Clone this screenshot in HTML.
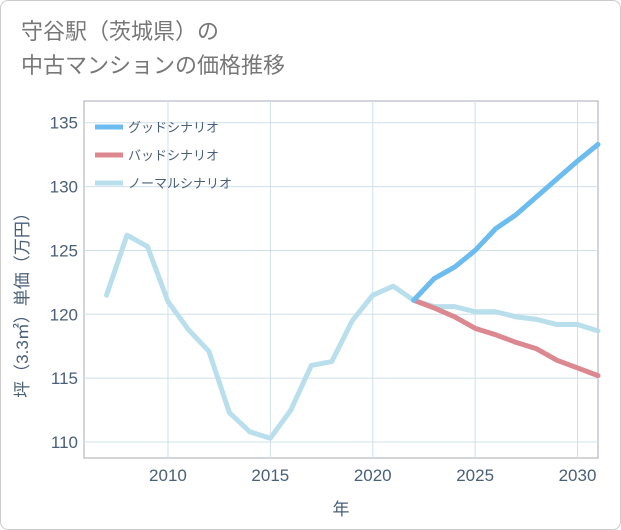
<!DOCTYPE html>
<html><head><meta charset="utf-8"><style>
body{margin:0;background:#fff;font-family:"Liberation Sans","Noto Sans CJK JP",sans-serif;}
#wrap{position:relative;width:619px;height:528px;border:1px solid #ccc;border-radius:8px;overflow:hidden;background:#fff;}
#title{position:absolute;left:20px;top:14px;font-size:22px;color:#777;line-height:34px;}
svg{position:absolute;left:0;top:0;}
</style></head><body>
<div id="wrap">
<div id="title">守谷駅（茨城県）の<br>中古マンションの価格推移</div>
<svg id="chart" width="621" height="530"></svg>
</div>
<script>
const years=[2007,2008,2009,2010,2011,2012,2013,2014,2015,2016,2017,2018,2019,2020,2021,2022,2023,2024,2025,2026,2027,2028,2029,2030,2031];
const normal=[121.5,126.2,125.3,121,118.8,117.1,112.3,110.8,110.3,112.5,116,116.3,119.5,121.5,122.2,121.1,120.6,120.6,120.2,120.2,119.8,119.6,119.2,119.2,118.7];
const futureYears=[2022,2023,2024,2025,2026,2027,2028,2029,2030,2031];
const good=[121.1,122.8,123.7,125,126.7,127.8,129.2,130.6,132,133.3];
const bad=[121.1,120.5,119.8,118.9,118.4,117.8,117.3,116.4,115.8,115.2];
const xTicks=[2010,2015,2020,2025,2030];
const yTicks=[110,115,120,125,130,135];
const L=83,R=597,T=100,B=457;
const x=v=>L+(v-2005.9)/(2031-2005.9)*(R-L);
const y=v=>B-(v-108.75)/(136.7-108.75)*(B-T);
const svg=document.getElementById('chart');
const NS='http://www.w3.org/2000/svg';
function mk(t,a){const e=document.createElementNS(NS,t);for(const k in a)e.setAttribute(k,a[k]);svg.appendChild(e);return e;}
const bg=mk('rect',{x:L,y:T,width:R-L,height:B-T,fill:'#fff',stroke:'#aab',"stroke-width":1});


xTicks.forEach(v=>{const g=mk('line',{x1:x(v),x2:x(v),y1:T,y2:B,stroke:'#cfe0ea'});


const t=mk('text',{x:x(v),y:B+23,"text-anchor":"middle","font-size":17,fill:'#4a5f78'});t.textContent=v;

});
yTicks.forEach(v=>{const g=mk('line',{x1:L,x2:R,y1:y(v),y2:y(v),stroke:'#cfe0ea'});


const t=mk('text',{x:L-6,y:y(v)+6,"text-anchor":"end","font-size":17,fill:'#4a5f78'});t.textContent=v;

});
function line(xs,ys,c,n){const p=mk('polyline',{points:xs.map((v,i)=>x(v)+','+y(ys[i])).join(' '),fill:'none',stroke:c,"stroke-width":5,"stroke-linejoin":"round","stroke-linecap":"round"});

}
line(years,normal,'#b9dfec','normal-scenario-line');
line(futureYears,bad,'#dc8890','bad-scenario-line');
line(futureYears,good,'#6cbcef','good-scenario-line');
const leg=[['グッドシナリオ','#6cbcef'],['バッドシナリオ','#dc8890'],['ノーマルシナリオ','#b9dfec']];
leg.forEach((d,i)=>{const yy=126+i*28;const l=mk('line',{x1:94,x2:122,y1:yy,y2:yy,stroke:d[1],"stroke-width":5});


const t=mk('text',{x:127,y:yy+5,"font-size":13,fill:'#4a5f78'});t.textContent=d[0];

});
const xt=mk('text',{x:340,y:514,"text-anchor":"middle","font-size":17,fill:'#4a5f78'});xt.textContent='年';


const yt=mk('text',{x:27,y:300,"text-anchor":"middle","font-size":17,fill:'#4a5f78',transform:'rotate(-90 27 300)'});yt.textContent='坪（3.3㎡）単価（万円）';


</script>
</body></html>
